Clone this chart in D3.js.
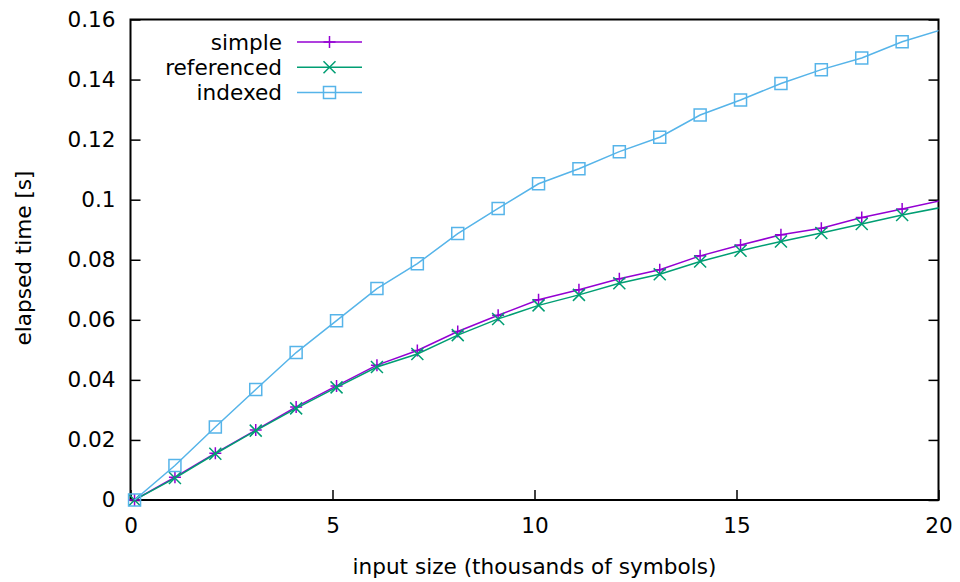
<!DOCTYPE html>
<html>
<head>
<meta charset="utf-8">
<script src="https://cdn.jsdelivr.net/npm/d3@7"></script>
<style>
  body { margin: 0; background: #fff; }
  text { font-family: "DejaVu Sans", sans-serif; font-size: 21.6px; fill: #000; }
</style>
</head>
<body>
<div id="chart"></div>
<script>
// input size in thousands of symbols
var sizes = [0.1, 1.1, 2.1, 3.1, 4.1, 5.1, 6.1, 7.1, 8.1, 9.1, 10.1,
    11.1, 12.1, 13.1, 14.1, 15.1, 16.1, 17.1, 18.1, 19.1, 20.1];
var simple = [0, 0.0076, 0.0156, 0.0233, 0.0310, 0.0380, 0.0449, 0.0498, 0.0561, 0.0615, 0.0667,
    0.0700, 0.0737, 0.0767, 0.0813, 0.0849, 0.0883, 0.0905, 0.0941, 0.0969, 0.0998];
var referenced = [0, 0.0073, 0.0154, 0.0231, 0.0305, 0.0375, 0.0443, 0.0486, 0.0549, 0.0603, 0.0648,
    0.0683, 0.0722, 0.0752, 0.0794, 0.0830, 0.0861, 0.0889, 0.0919, 0.0949, 0.0975];
var indexed = [0, 0.0115, 0.0243, 0.0368, 0.0491, 0.0597, 0.0704, 0.0787, 0.0887, 0.0971, 0.1053,
    0.1103, 0.1160, 0.1208, 0.1282, 0.1332, 0.1387, 0.1433, 0.1472, 0.1526, 0.1567];

var xTicks = [0, 5, 10, 15, 20];
var yTicks = [0, 0.02, 0.04, 0.06, 0.08, 0.1, 0.12, 0.14, 0.16];

var series = [
    { name: "simple", values: simple, color: "#9400d3", marker: "M-6,0H6M0,-6V6" },
    { name: "referenced", values: referenced, color: "#009e73", marker: "M-6,-6L6,6M6,-6L-6,6" },
    { name: "indexed", values: indexed, color: "#56b4e9", marker: "M-6,-6h12v12h-12z" }
];

var plotLeft = 130.5, plotRight = 938.5, plotTop = 19.5, plotBottom = 500;

var x = d3.scaleLinear().domain([0, 20]).range([plotLeft, plotRight]);
var y = d3.scaleLinear().domain([0, 0.16]).range([plotBottom, plotTop]);

var svg = d3.select("#chart")
    .append("svg")
    .attr("width", 960)
    .attr("height", 582);

svg.append("clipPath").attr("id", "plot")
    .append("rect")
    .attr("x", plotLeft).attr("y", plotTop)
    .attr("width", plotRight - plotLeft).attr("height", plotBottom - plotTop);

// ticks point inward like gnuplot
var xAxis = d3.axisBottom(x).tickValues(xTicks).tickSize(-10).tickPadding(14).tickFormat(d3.format("d"));
var yAxis = d3.axisLeft(y).tickValues(yTicks).tickSize(-10).tickPadding(15).tickFormat(d3.format("~g"));
var yAxisRight = d3.axisRight(y).tickValues(yTicks).tickSize(-10).tickFormat("");

var gx = svg.append("g").attr("transform", "translate(0," + plotBottom + ")").call(xAxis);
var gy = svg.append("g").attr("transform", "translate(" + plotLeft + ",0)").call(yAxis);
var gy2 = svg.append("g").attr("transform", "translate(" + plotRight + ",0)").call(yAxisRight);

[gx, gy, gy2].forEach(g => {
    g.select(".domain").remove();
    g.selectAll(".tick line").attr("stroke", "#000").attr("stroke-width", 1.5);
    g.selectAll("text").attr("font-family", null).attr("font-size", null).attr("fill", null);
});
gx.selectAll("text").attr("dy", "0.9em");

svg.append("rect")
    .attr("x", plotLeft).attr("y", plotTop)
    .attr("width", plotRight - plotLeft).attr("height", plotBottom - plotTop)
    .attr("fill", "none")
    .attr("stroke", "#000")
    .attr("stroke-width", 2);

var line = d3.line()
    .x((d, i) => x(sizes[i]))
    .y(d => y(d));

series.forEach(s => {
    svg.append("path")
        .datum(s.values)
        .attr("clip-path", "url(#plot)")
        .attr("fill", "none")
        .attr("stroke", s.color)
        .attr("stroke-width", 1.5)
        .attr("d", line);

    svg.selectAll(null)
        .data(s.values.filter((d, i) => sizes[i] <= 20))
        .enter().append("path")
        .attr("transform", (d, i) => "translate(" + x(sizes[i]) + "," + y(d) + ")")
        .attr("d", s.marker)
        .attr("fill", "none")
        .attr("stroke", s.color)
        .attr("stroke-width", 1.5);
});

// legend
var legend = svg.append("g");
series.forEach((s, i) => {
    var ly = 42 + i * 25.3;
    legend.append("text")
        .attr("x", 282).attr("y", ly)
        .attr("dy", "0.35em")
        .attr("text-anchor", "end")
        .text(s.name);
    legend.append("line")
        .attr("x1", 297).attr("x2", 362)
        .attr("y1", ly).attr("y2", ly)
        .attr("stroke", s.color)
        .attr("stroke-width", 1.5);
    legend.append("path")
        .attr("transform", "translate(" + 329.5 + "," + ly + ")")
        .attr("d", s.marker)
        .attr("fill", "none")
        .attr("stroke", s.color)
        .attr("stroke-width", 1.5);
});

svg.append("text")
    .attr("x", (plotLeft + plotRight) / 2).attr("y", 566)
    .attr("dy", "0.35em")
    .attr("text-anchor", "middle")
    .text("input size (thousands of symbols)");
svg.append("g")
    .attr("transform", "translate(23," + 258 + ")")
    .append("text")
    .attr("transform", "rotate(-90)")
    .attr("dy", "0.35em")
    .attr("text-anchor", "middle")
    .text("elapsed time [s]");
</script>
</body>
</html>
